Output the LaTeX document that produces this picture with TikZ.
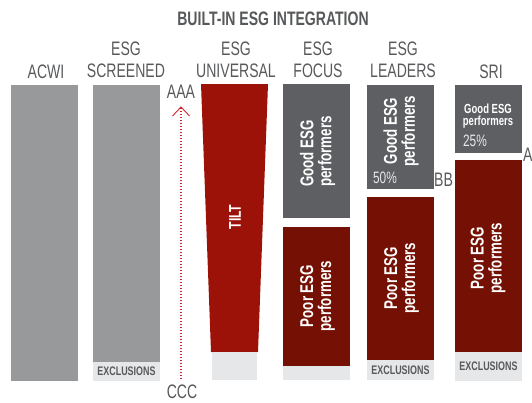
\documentclass[tikz,border=0pt]{standalone}
\usepackage{fontspec}
\setmainfont{Liberation Sans}[FakeStretch=0.72]
\definecolor{hdr}{HTML}{58595B}
\definecolor{midgray}{HTML}{97999B}
\definecolor{dkgray}{HTML}{5E5F62}
\definecolor{unired}{HTML}{9C1208}
\definecolor{poorred}{HTML}{751104}
\definecolor{exclgray}{HTML}{E6E7E8}
\definecolor{arrowred}{HTML}{D2232A}
\tikzset{
  blk/.style={draw=none, inner sep=0pt, minimum width=67pt},
  hdrtext/.style={text=hdr, font=\fontsize{19.5}{22}\selectfont, align=center, inner sep=0pt},
  scaletext/.style={text=hdr, font=\fontsize{19.5}{22}\selectfont, inner sep=0pt},
  intext/.style={text=white, font=\bfseries\fontsize{18.5}{18}\selectfont, inner sep=0pt, rotate=90},
  smalltext/.style={text=white, font=\bfseries\fontsize{13.2}{12}\selectfont, inner sep=0pt, align=center},
  pcttext/.style={text=exclgray, font=\fontsize{16.5}{16}\selectfont, inner sep=0pt},
  excltext/.style={text=hdr, font=\bfseries\fontsize{12.4}{12}\selectfont, inner sep=0pt},
}
\begin{document}
\begin{tikzpicture}[x=1pt, y=-1pt]
\useasboundingbox (0,0) rectangle (532,402);
\clip (0,0) rectangle (532,402);
% title and headers
\node[hdrtext, font=\bfseries\fontsize{19.5}{22}\selectfont] (title) at (273,19) {BUILT-IN ESG INTEGRATION};
\node[hdrtext] (h-acwi) at (46,71.5) {ACWI};
\node[hdrtext] (h-scr) at (126,60) {ESG\\SCREENED};
\node[hdrtext] (h-uni) at (236,60) {ESG\\UNIVERSAL};
\node[hdrtext] (h-foc) at (318,60) {ESG\\FOCUS};
\node[hdrtext] (h-lead) at (403,60) {ESG\\LEADERS};
\node[hdrtext] (h-sri) at (491,71.5) {SRI};
% ACWI
\node[blk, fill=midgray, minimum height=296pt] (acwi) at (44.5,233) {};
% ESG screened
\node[blk, fill=midgray, minimum height=276.5pt] (scr) at (126.5,223.25) {};
\node[blk, fill=exclgray, minimum height=19.5pt] (scr-ex) at (126.5,371.25) {};
\node[excltext] (scr-ex-t) at (126.5,371) {EXCLUSIONS};
% rating scale
\node[scaletext] (aaa) at (181,91.5) {AAA};
\node[scaletext] (ccc) at (182,391.5) {CCC};
\coordinate (tip) at (181,107);
\coordinate (tail) at (181,379);
\draw[arrowred, line width=1.1pt, dash pattern=on 1.1pt off 1.9pt] (tail) -- (tip);
\draw[arrowred, line width=0.9pt] (172.5,116) -- (tip) -- (189.5,116);
% ESG universal
\fill[unired] (201,84) -- (268,84) -- (258,352) -- (211,352) -- cycle;
\node[blk, fill=exclgray, minimum width=45pt, minimum height=28pt] (uni-ex) at (234.5,366) {};
\node[intext, font=\bfseries\fontsize{17}{17}\selectfont] (tilt) at (235,217) {TILT};
% ESG focus
\node[blk, fill=dkgray, minimum height=134pt] (foc-good) at (316.5,151) {};
\node[blk, fill=poorred, minimum height=139pt] (foc-poor) at (316.5,296.5) {};
\node[blk, fill=exclgray, minimum height=14pt] (foc-ex) at (316.5,373) {};
\node[intext, align=left] (foc-good-t) at (317.5,151.5) {Good ESG\\performers};
\node[intext, align=center] (foc-poor-t) at (317.5,296) {Poor ESG\\performers};
% ESG leaders
\node[blk, fill=dkgray, minimum height=104pt] (lead-good) at (400.5,137) {};
\node[blk, fill=poorred, minimum height=163pt] (lead-poor) at (400.5,278.5) {};
\node[blk, fill=exclgray, minimum height=20pt] (lead-ex) at (400.5,370) {};
\node[intext, align=center] (lead-good-t) at (401,131) {Good ESG\\performers};
\node[pcttext] (lead-pct) at (385,178) {50\%};
\node[intext, align=center] (lead-poor-t) at (401.5,278) {Poor ESG\\performers};
\node[excltext] (lead-ex-t) at (400.5,370) {EXCLUSIONS};
\node[scaletext] (bb) at (443.5,180) {BB};
% SRI
\node[blk, fill=dkgray, minimum height=68pt] (sri-good) at (488.5,119) {};
\node[blk, fill=poorred, minimum height=192pt] (sri-poor) at (488.5,256) {};
\node[blk, fill=exclgray, minimum height=29pt] (sri-ex) at (488.5,366.5) {};
\node[smalltext] (sri-good-t) at (488,116) {Good ESG\\performers};
\node[pcttext] (sri-pct) at (475,141) {25\%};
\node[intext, align=center] (sri-poor-t) at (488,258) {Poor ESG\\performers};
\node[excltext] (sri-ex-t) at (488.5,366) {EXCLUSIONS};
\node[scaletext, anchor=west] (a) at (523,155) {A};
\end{tikzpicture}
\end{document}
